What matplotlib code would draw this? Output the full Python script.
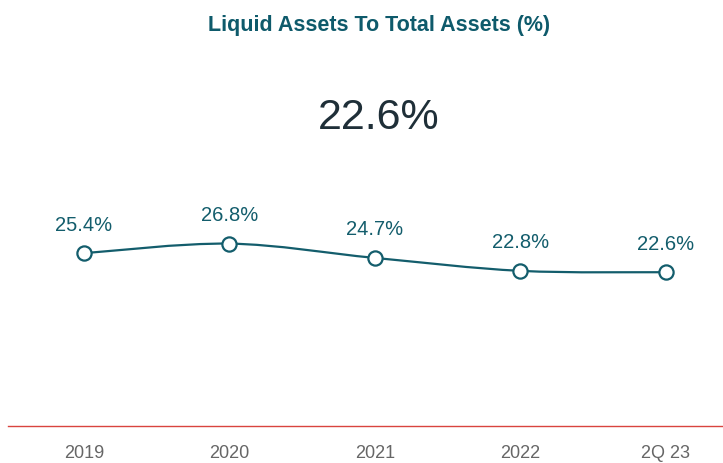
import matplotlib
matplotlib.use("Agg")
import matplotlib.pyplot as plt
from matplotlib.path import Path
from matplotlib.patches import PathPatch
import numpy as np

plt.rcParams['font.family'] = ['Liberation Sans', 'DejaVu Sans']

categories = ['2019', '2020', '2021', '2022', '2Q 23']
values = [25.4, 26.8, 24.7, 22.8, 22.6]
labels = ['25.4%', '26.8%', '24.7%', '22.8%', '22.6%']
headline = '22.6%'
title = 'Liquid Assets To Total Assets (%)'

teal = '#135d6c'
x = np.arange(len(values))
y = np.array(values)

fig = plt.figure(figsize=(7.23, 4.64), dpi=100)
ax = fig.add_axes([8 / 723, 37 / 464, 715 / 723, 247 / 464])

# smooth curve through the points (Catmull-Rom -> cubic bezier)
verts = [(x[0], y[0])]
codes = [Path.MOVETO]
for i in range(len(x) - 1):
    p0 = (x[max(i - 1, 0)], y[max(i - 1, 0)])
    p1 = (x[i], y[i])
    p2 = (x[i + 1], y[i + 1])
    p3 = (x[min(i + 2, len(x) - 1)], y[min(i + 2, len(x) - 1)])
    t = 0.5 / 3
    c1 = (p1[0] + (p2[0] - p0[0]) * t, p1[1] + (p2[1] - p0[1]) * t)
    c2 = (p2[0] - (p3[0] - p1[0]) * t, p2[1] - (p3[1] - p1[1]) * t)
    verts += [c1, c2, p2]
    codes += [Path.CURVE4] * 3
ax.add_patch(PathPatch(Path(verts, codes), facecolor='none', edgecolor=teal, lw=1.6, zorder=2))

ax.scatter(x, y, s=105, facecolor='white', edgecolor=teal, linewidth=1.6, zorder=3)
for xi, yi, lab in zip(x, y, labels):
    ax.annotate(lab, (xi, yi), xytext=(0, 14), textcoords='offset points',
                ha='center', va='bottom', fontsize=14.5, color=teal)

ax.set_xlim(-76 / 145.5, 4 + 57 / 145.5)
ax.set_ylim(0, 36.3)
ax.set_xticks(x)
ax.set_xticklabels(categories, fontsize=13, color='#666666')
ax.tick_params(axis='x', length=0, pad=13)
ax.set_yticks([])
for s in ['top', 'right', 'left']:
    ax.spines[s].set_visible(False)
ax.spines['bottom'].set_color('#d9443f')
ax.spines['bottom'].set_linewidth(1.0)

fig.text(379 / 723, 1 - 25 / 464, title, ha='center', va='center',
         fontsize=15.5, fontweight='bold', color='#0e5a6b')
fig.text(379 / 723, 1 - 118 / 464, headline, ha='center', va='center',
         fontsize=31, color='#1f2f38')

fig.savefig('out.png', dpi=100)
